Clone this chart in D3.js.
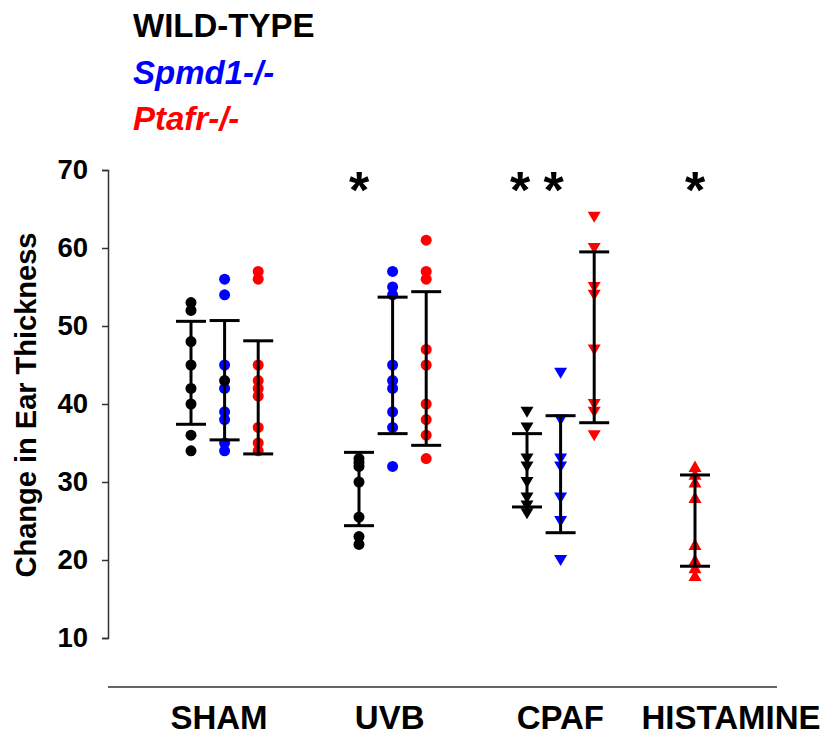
<!DOCTYPE html>
<html>
<head>
<meta charset="utf-8">
<script src="https://cdn.jsdelivr.net/npm/d3@7"></script>
<style>
  body { margin: 0; background: #fff; }
  svg { font-family: Arial, "Liberation Sans", sans-serif; font-weight: bold; }
</style>
</head>
<body>
<svg id="chart" width="826" height="736"></svg>
<script>
// categories
const groups = ["SHAM", "UVB", "CPAF", "HISTAMINE"];
const genotypes = ["WILD-TYPE", "Spmd1-/-", "Ptafr-/-"];
const genoColors = ["#000000", "#0000ff", "#ff0000"];
const yTicks = [10, 20, 30, 40, 50, 60, 70];

// individual ear thickness changes
const shamWT = [53, 52, 48, 45, 42, 40, 36, 34];
const shamSpmd1 = [56, 54, 45, 42, 39, 38, 35, 34];
const shamPtafr = [57, 56, 45, 43, 42, 41, 37, 35, 34];
const uvbWT = [33, 32.5, 32, 30, 25.5, 23, 22];
const uvbSpmd1 = [57, 55, 54, 45, 43, 42, 39, 37, 32];
const uvbPtafr = [61, 57, 56, 47, 45, 40, 38, 36, 33];
const cpafWT = [39, 37, 33, 32, 30, 28, 27, 26];
const cpafSpmd1 = [44, 38, 33, 32, 28, 25, 20];
const cpafPtafr = [64, 60, 55, 54, 47, 40, 39, 36];
const histPtafr = [32, 31, 30, 28, 22, 20, 19, 18];
// one wild-type sham point sits in the Spmd1 column in the original
const shamStray = [43];

// error bars [top, bottom]
const shamBars = [[50.6, 37.4], [50.7, 35.4], [48.1, 33.6]];
const uvbBars = [[33.8, 24.4], [53.7, 36.2], [54.4, 34.7]];
const cpafBars = [[36.2, 26.8], [38.5, 23.5], [59.5, 37.6]];
const histBars = [[30.9, 19.2]];

// significance stars: group, column
const stars = [["UVB", 0], ["CPAF", 0], ["CPAF", 1], ["HISTAMINE", 0]];

// build the series table (col = slot inside the group, geno = colour)
let series = [
    {group: "SHAM", col: 0, geno: 0, shape: "circle", values: shamWT, bar: shamBars[0]},
    {group: "SHAM", col: 1, geno: 1, shape: "circle", values: shamSpmd1, bar: shamBars[1]},
    {group: "SHAM", col: 2, geno: 2, shape: "circle", values: shamPtafr, bar: shamBars[2]},
    {group: "SHAM", col: 1, geno: 0, shape: "circle", values: shamStray, bar: null},
    {group: "UVB", col: 0, geno: 0, shape: "circle", values: uvbWT, bar: uvbBars[0]},
    {group: "UVB", col: 1, geno: 1, shape: "circle", values: uvbSpmd1, bar: uvbBars[1]},
    {group: "UVB", col: 2, geno: 2, shape: "circle", values: uvbPtafr, bar: uvbBars[2]},
    {group: "CPAF", col: 0, geno: 0, shape: "down", values: cpafWT, bar: cpafBars[0]},
    {group: "CPAF", col: 1, geno: 1, shape: "down", values: cpafSpmd1, bar: cpafBars[1]},
    {group: "CPAF", col: 2, geno: 2, shape: "down", values: cpafPtafr, bar: cpafBars[2]},
    {group: "HISTAMINE", col: 0, geno: 2, shape: "up", values: histPtafr, bar: histBars[0]}
];

let svg = d3.select("#chart");

let yScale = d3.scaleLinear().domain([10, 70]).range([638, 170]);
// column slots: 3 per group plus a 2 slot gap
let slotScale = d3.scaleLinear().domain([0, 15]).range([191, 695]);
let colX = (g, c) => slotScale(groups.indexOf(g) * 5 + c);
let labelScale = d3.scalePoint().domain(groups).range([219, 731]);

// y axis
let yAxis = d3.axisLeft(yScale).tickValues(yTicks).tickSize(6).tickPadding(14);
let yG = svg.append("g").attr("transform", "translate(108,0)").call(yAxis);
yG.selectAll("path, line").attr("stroke", "#333").attr("stroke-width", 1.5);
yG.selectAll("text").attr("font-size", 27.5).attr("font-weight", "bold")
    .attr("font-family", "Arial, 'Liberation Sans', sans-serif").attr("fill", "#000");

svg.append("text")
    .attr("transform", "translate(36,405) rotate(-90)")
    .attr("text-anchor", "middle")
    .attr("font-size", 29)
    .text("Change in Ear Thickness");

// x axis: plain line with category labels underneath
svg.append("line")
    .attr("x1", 108).attr("x2", 777)
    .attr("y1", 687).attr("y2", 687)
    .attr("stroke", "#333").attr("stroke-width", 1.5);

svg.append("g")
    .selectAll("text")
    .data(groups)
    .join("text")
    .attr("x", d => labelScale(d))
    .attr("y", 729)
    .attr("text-anchor", "middle")
    .attr("font-size", 33)
    .text(d => d);

// legend
svg.append("g")
    .selectAll("text")
    .data(genotypes)
    .join("text")
    .attr("x", 133)
    .attr("y", (d, i) => 37 + i * 46.5)
    .attr("font-size", 33)
    .attr("font-style", (d, i) => i == 0 ? "normal" : "italic")
    .attr("fill", (d, i) => genoColors[i])
    .text(d => d);

// points
let markers = {
    down: "M-6.5,-5 L6.5,-5 L0,6 Z",
    up: "M-6.5,5.5 L6.5,5.5 L0,-6 Z"
};

let pts = [];
for (let s of series) {
    for (let v of s.values) {
        pts.push({x: colX(s.group, s.col), v: v, color: genoColors[s.geno], shape: s.shape});
    }
}

let ptG = svg.append("g");
ptG.selectAll("circle")
    .data(pts.filter(d => d.shape == "circle"))
    .join("circle")
    .attr("cx", d => d.x)
    .attr("cy", d => yScale(d.v))
    .attr("r", 5.5)
    .attr("fill", d => d.color);

ptG.selectAll("path")
    .data(pts.filter(d => d.shape != "circle"))
    .join("path")
    .attr("transform", d => `translate(${d.x},${yScale(d.v)})`)
    .attr("d", d => markers[d.shape])
    .attr("fill", d => d.color);

// error bars on top of the points
let barG = svg.append("g").attr("stroke", "#000").attr("stroke-width", 3);
let bars = series.filter(s => s.bar);
barG.selectAll(".stem")
    .data(bars)
    .join("line")
    .attr("class", "stem")
    .attr("x1", d => colX(d.group, d.col))
    .attr("x2", d => colX(d.group, d.col))
    .attr("y1", d => yScale(d.bar[0]))
    .attr("y2", d => yScale(d.bar[1]));

let caps = [];
for (let b of bars) {
    caps.push({x: colX(b.group, b.col), v: b.bar[0]});
    caps.push({x: colX(b.group, b.col), v: b.bar[1]});
}
barG.selectAll(".cap")
    .data(caps)
    .join("line")
    .attr("class", "cap")
    .attr("x1", d => d.x - 15)
    .attr("x2", d => d.x + 15)
    .attr("y1", d => yScale(d.v))
    .attr("y2", d => yScale(d.v));

// significance stars (the CPAF pair sits a little left of its columns)
svg.append("g")
    .selectAll("text")
    .data(stars)
    .join("text")
    .attr("x", d => colX(d[0], d[1]) + (d[0] == "CPAF" ? -7 : 0))
    .attr("y", 208)
    .attr("text-anchor", "middle")
    .attr("font-size", 52)
    .text("*");
</script>
</body>
</html>
